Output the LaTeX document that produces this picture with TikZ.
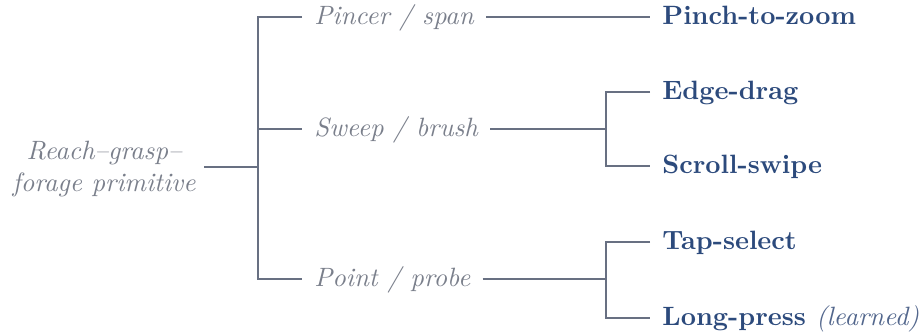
\documentclass[tikz,border=0pt]{standalone}
\definecolor{wire}{HTML}{687082}
\definecolor{midtext}{HTML}{7A7F8B}
\definecolor{leaftext}{HTML}{2C4A7C}
\definecolor{notetext}{HTML}{52668C}
\begin{document}
\begin{tikzpicture}[x=0.3774pt,y=-0.3774pt,
  wires/.style={draw=wire,line width=0.95pt},
  rootlabel/.style={font=\itshape,text=midtext,align=center,inner xsep=3pt,inner ysep=0pt},
  midlabel/.style={font=\itshape,text=midtext,inner xsep=4.5pt,inner ysep=0pt,text height=8pt,text depth=2pt},
  leaflabel/.style={font=\bfseries,text=leaftext,inner xsep=4.5pt,inner ysep=0pt,text height=8pt,text depth=2pt,anchor=west}]
\useasboundingbox (0,0) rectangle (921,336);
% root and its junction
\node[rootlabel,anchor=east] (root) at (204,169) {Reach--grasp--\\forage primitive};
\coordinate (j0) at (258,167);
% second level
\node[midlabel,anchor=west] (pincer) at (302,17) {Pincer / span};
\node[midlabel,anchor=west] (sweep) at (302,129) {Sweep / brush};
\node[midlabel,anchor=west] (point) at (302,279) {Point / probe};
\coordinate (j1) at (606,129);
\coordinate (j2) at (606,279);
% leaves
\node[leaflabel] (pinch) at (650,17) {Pinch-to-zoom};
\node[leaflabel] (edge) at (650,92) {Edge-drag};
\node[leaflabel] (scroll) at (650,166) {Scroll-swipe};
\node[leaflabel] (tap) at (650,242) {Tap-select};
\node[leaflabel] (long) at (650,318) {Long-press \textmd{\itshape\color{notetext}(learned)}};
% connectors
\draw[wires] (root.east |- j0) -- (j0);
\draw[wires] (pincer.west) -| (j0) |- (point.west);
\draw[wires] (j0) |- (sweep.west);
\draw[wires] (pincer.east) -- (pinch.west);
\draw[wires] (sweep.east) -- (j1);
\draw[wires] (edge.west) -| (j1) |- (scroll.west);
\draw[wires] (point.east) -- (j2);
\draw[wires] (tap.west) -| (j2) |- (long.west);
\end{tikzpicture}
\end{document}
